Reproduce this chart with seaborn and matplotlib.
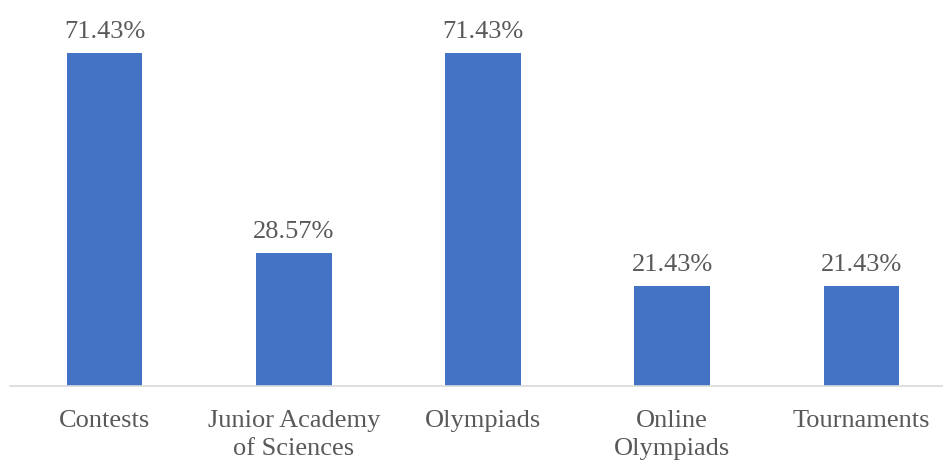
import matplotlib
matplotlib.use("Agg")
import matplotlib.pyplot as plt
import seaborn as sns
import pandas as pd

categories = ["Contests", "Junior Academy\nof Sciences", "Olympiads", "Online\nOlympiads", "Tournaments"]
values = [71.43, 28.57, 71.43, 21.43, 21.43]

sns.set_style("white")
plt.rcParams['font.family'] = ['Liberation Serif', 'DejaVu Serif']

df = pd.DataFrame({"cat": categories, "val": values})

fig = plt.figure(figsize=(9.43, 4.61), dpi=100)
ax = fig.add_axes([10/943, 75/461, 946/943, 373/461])
sns.barplot(data=df, x="cat", y="val", color="#4472C4", saturation=1, width=0.4,
            linewidth=0, edgecolor="none", ax=ax)
ax.set_ylim(0, 80)
ax.set_xlim(-0.5, 4.5)
for c in ax.containers:
    ax.bar_label(c, labels=[f"{v:.2f}%" for v in values], padding=7, fontsize=19, color="#595959")
ax.set_xlabel("")
ax.set_ylabel("")
ax.set_yticks([])
for s in ["top", "right", "left"]:
    ax.spines[s].set_visible(False)
ax.spines["bottom"].set_color("#d9d9d9")
ax.spines["bottom"].set_linewidth(1.2)
ax.tick_params(axis="x", length=0, pad=17.5, labelsize=19, labelcolor="#595959")
for t in ax.get_xticklabels():
    t.set_linespacing(1.35)
fig.savefig("out.png", dpi=100)
